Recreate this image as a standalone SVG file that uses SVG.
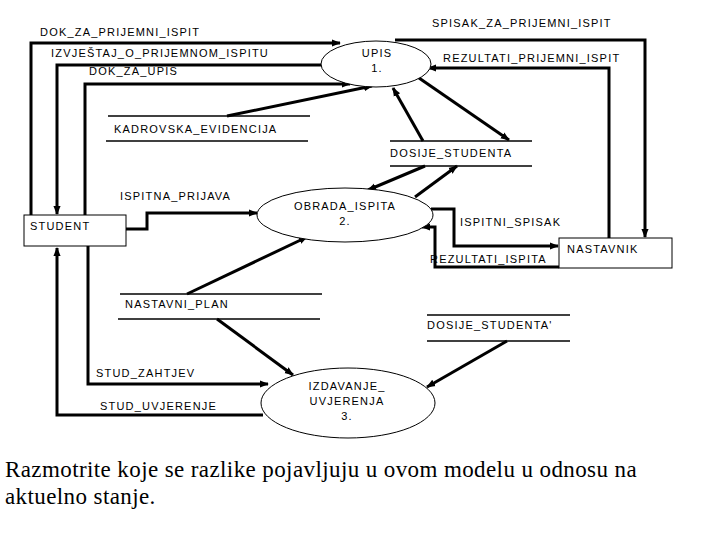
<svg xmlns="http://www.w3.org/2000/svg" width="720" height="540" viewBox="0 0 720 540">
<defs>
<marker id="ah" viewBox="0 0 10 10" refX="9" refY="5" markerWidth="3" markerHeight="3" orient="auto" markerUnits="strokeWidth">
<path d="M0,1 L10,5 L0,9 z" fill="#000"/>
</marker>
<style>
.lbl{font-family:"Liberation Sans",Arial,sans-serif;font-size:11px;letter-spacing:1.2px;fill:#000}
.ctr{text-anchor:middle}
.c{fill:none;stroke:#000;stroke-width:3;marker-end:url(#ah)}
.proc{fill:#fff;stroke:#000;stroke-width:1}
.ent{fill:#fff;stroke:#000;stroke-width:1}
.st{stroke:#000;stroke-width:1.3}
.note{font-family:"Liberation Serif","Times New Roman","DejaVu Serif",serif;font-size:23px;letter-spacing:0.4px;fill:#000}
</style>
</defs>
<rect width="720" height="540" fill="#fff"/>
<g id="connectors">
<polyline class="c" points="31,215 31,43 340,43"/>
<polyline class="c" points="322,65 57,65 57,214"/>
<polyline class="c" points="85,215 85,84 350,84"/>
<line class="c" x1="227" y1="116" x2="372" y2="86"/>
<line class="c" x1="423" y1="141" x2="393" y2="88"/>
<line class="c" x1="419" y1="78" x2="509" y2="140"/>
<polyline class="c" points="609,238 609,68 428,68"/>
<polyline class="c" points="395,40 645,40 645,237"/>
<polyline class="c" points="126,229 147,229 147,213 257,213"/>
<line class="c" x1="425" y1="166" x2="368" y2="190"/>
<line class="c" x1="415" y1="197" x2="457" y2="166"/>
<polyline class="c" points="431,209 454,209 454,246 558,246"/>
<polyline class="c" points="559,267 435,267 435,227 422,227"/>
<line class="c" x1="187" y1="294" x2="307" y2="237"/>
<line class="c" x1="217" y1="319" x2="293" y2="375"/>
<polyline class="c" points="263,415 57,415 57,248"/>
<polyline class="c" points="88,246 88,384 268,384"/>
<line class="c" x1="507" y1="341" x2="427" y2="387"/>
</g>
<g id="upis">
<ellipse class="proc" cx="376" cy="64" rx="55" ry="23"/>
<text class="lbl ctr" x="377" y="57">UPIS</text>
<text class="lbl ctr" x="377" y="72">1.</text>
</g>
<g id="obrada">
<ellipse class="proc" cx="345" cy="215" rx="88" ry="27"/>
<text class="lbl ctr" x="345" y="210">OBRADA_ISPITA</text>
<text class="lbl ctr" x="345" y="225">2.</text>
</g>
<g id="izdavanje">
<ellipse class="proc" cx="348" cy="403" rx="87" ry="35"/>
<text class="lbl ctr" x="347" y="390">IZDAVANJE_</text>
<text class="lbl ctr" x="347" y="405">UVJERENJA</text>
<text class="lbl ctr" x="347" y="420">3.</text>
</g>
<g id="student">
<rect class="ent" x="24" y="215" width="102" height="31"/>
<text class="lbl" x="30" y="230">STUDENT</text>
</g>
<g id="nastavnik">
<rect class="ent" x="559" y="238" width="113" height="30"/>
<text class="lbl" x="567" y="253">NASTAVNIK</text>
</g>
<g id="kadrovska">
<line class="st" x1="108" y1="116" x2="310" y2="116"/>
<line class="st" x1="106" y1="141" x2="308" y2="141"/>
<text class="lbl" x="114" y="133">KADROVSKA_EVIDENCIJA</text>
</g>
<g id="dosije">
<line class="st" x1="390" y1="141" x2="532" y2="141"/>
<line class="st" x1="390" y1="166" x2="532" y2="166"/>
<text class="lbl" x="390" y="157">DOSIJE_STUDENTA</text>
</g>
<g id="nastavni_plan">
<line class="st" x1="120" y1="294" x2="322" y2="294"/>
<line class="st" x1="118" y1="319" x2="320" y2="319"/>
<text class="lbl" x="125" y="308">NASTAVNI_PLAN</text>
</g>
<g id="dosije2">
<line class="st" x1="427" y1="315" x2="570" y2="315"/>
<line class="st" x1="427" y1="341" x2="570" y2="341"/>
<text class="lbl" x="427" y="329">DOSIJE_STUDENTA'</text>
</g>
<g id="labels">
<text class="lbl" x="40" y="36">DOK_ZA_PRIJEMNI_ISPIT</text>
<text class="lbl" x="51" y="57">IZVJEŠTAJ_O_PRIJEMNOM_ISPITU</text>
<text class="lbl" x="89" y="75">DOK_ZA_UPIS</text>
<text class="lbl" x="432" y="27">SPISAK_ZA_PRIJEMNI_ISPIT</text>
<text class="lbl" x="443" y="62">REZULTATI_PRIJEMNI_ISPIT</text>
<text class="lbl" x="120" y="200">ISPITNA_PRIJAVA</text>
<text class="lbl" x="460" y="226">ISPITNI_SPISAK</text>
<text class="lbl" x="430" y="263">REZULTATI_ISPITA</text>
<text class="lbl" x="96" y="377">STUD_ZAHTJEV</text>
<text class="lbl" x="100" y="410">STUD_UVJERENJE</text>
</g>
<text class="note" x="5" y="477">Razmotrite koje se razlike pojavljuju u ovom modelu u odnosu na</text>
<text class="note" x="5" y="504">aktuelno stanje.</text>
</svg>
